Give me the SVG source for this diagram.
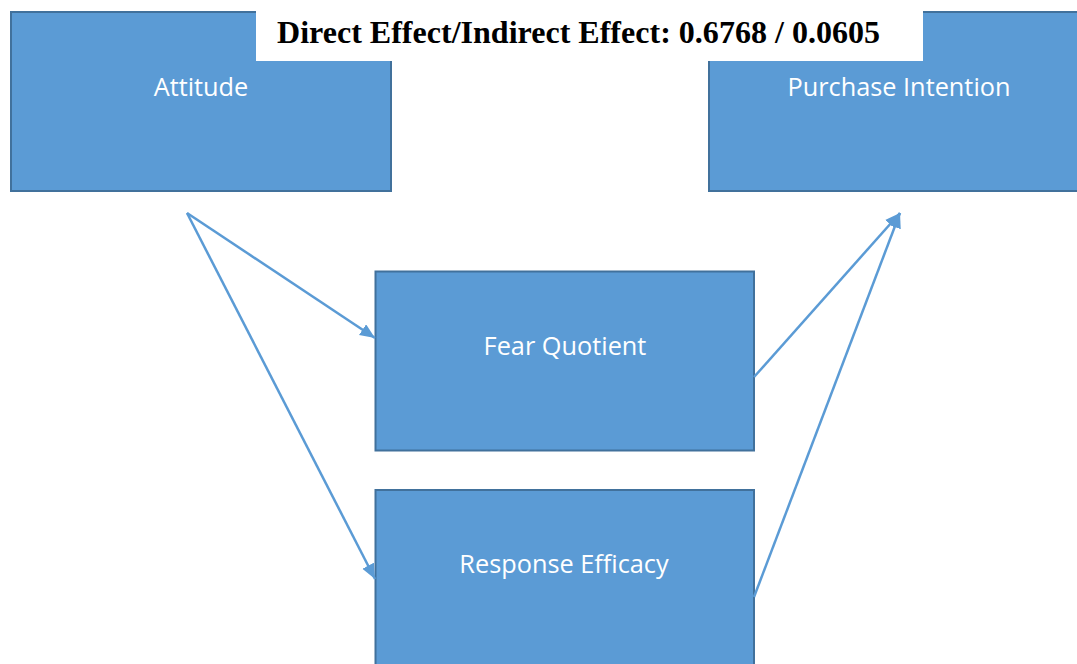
<svg xmlns="http://www.w3.org/2000/svg" width="1077" height="664" viewBox="0 0 1077 664">
<style>
.box{fill:#5B9BD5;stroke:#41719C;stroke-width:2}
.lbl{font-family:"Open Sans","Noto Sans",sans-serif;font-size:25.3px;fill:#FFFFFF;text-anchor:middle}
.conn{stroke:#5B9BD5;stroke-width:2.5;fill:none;marker-end:url(#arr)}
.title{font-family:"Liberation Serif","Times New Roman",serif;font-weight:bold;font-size:32px;fill:#000}
</style>
<defs>
<marker id="arr" markerUnits="userSpaceOnUse" markerWidth="16" markerHeight="14" refX="15" refY="6.5" orient="auto">
<path d="M0,0 L15,6.5 L0,13 z" fill="#5B9BD5"/>
</marker>
</defs>
<rect width="1077" height="664" fill="#FFFFFF"/>
<g id="attitude">
<rect class="box" x="11" y="12" width="380" height="179"/>
<text class="lbl" x="201" y="96">Attitude</text>
</g>
<g id="purchase-intention">
<rect class="box" x="709" y="12" width="380" height="179"/>
<text class="lbl" x="899" y="96">Purchase Intention</text>
</g>
<g id="fear-quotient">
<rect class="box" x="375.5" y="271.5" width="378.5" height="179"/>
<text class="lbl" x="565" y="355">Fear Quotient</text>
</g>
<g id="response-efficacy">
<rect class="box" x="375.5" y="490" width="378.5" height="190"/>
<text class="lbl" x="564" y="573">Response Efficacy</text>
</g>
<g id="connectors">
<line class="conn" x1="187" y1="213" x2="375" y2="338"/>
<line class="conn" x1="187" y1="213" x2="375" y2="579"/>
<line class="conn" x1="754" y1="377" x2="900" y2="213"/>
<line class="conn" x1="754" y1="597" x2="900" y2="213"/>
</g>
<g id="title">
<rect x="256" y="0" width="667" height="61" fill="#FFFFFF"/>
<text class="title" x="277" y="43" textLength="603" lengthAdjust="spacingAndGlyphs">Direct Effect/Indirect Effect: 0.6768 / 0.0605</text>
</g>
</svg>
